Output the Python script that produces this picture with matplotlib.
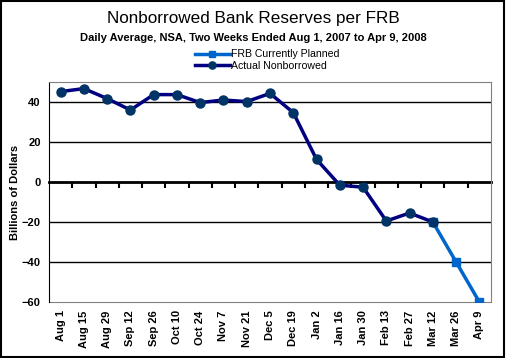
import numpy as np
import matplotlib.pyplot as plt
from matplotlib.patches import Rectangle

plt.rcParams['font.family'] = ['Liberation Sans', 'DejaVu Sans']

# two-week periods
weeks = ['Aug 1', 'Aug 15', 'Aug 29', 'Sep 12', 'Sep 26', 'Oct 10', 'Oct 24',
         'Nov 7', 'Nov 21', 'Dec 5', 'Dec 19', 'Jan 2', 'Jan 16', 'Jan 30',
         'Feb 13', 'Feb 27', 'Mar 12', 'Mar 26', 'Apr 9']

# Billions of dollars
actual = [45.2, 46.7, 41.7, 36.0, 43.7, 43.7, 39.7, 41.0, 40.2, 44.3,
          34.7, 11.3, -1.6, -2.6, -19.5, -15.5, -20.0]
planned_weeks = ['Mar 12', 'Mar 26', 'Apr 9']
planned = [-20.0, -40.0, -60.0]

x_all = np.arange(len(weeks))
x_act = x_all[:len(actual)]
x_plan = [weeks.index(w) for w in planned_weeks]

fig = plt.figure(figsize=(5.07, 3.58), dpi=100)
ax = fig.add_axes([49 / 507, 1 - 302 / 358, 442 / 507, 220 / 358])

# gridlines
for v in [40, 20, -20, -40]:
    ax.axhline(v, color='black', lw=1, zorder=1)

ax.plot(x_plan, planned, color='#0066CC', lw=2.5, marker='s', ms=6,
        mfc='#0066CC', mec='#0066CC', label='FRB Currently Planned', zorder=3)
ax.plot(x_act, actual, color='#000080', lw=2.5, marker='o', ms=6.5,
        mfc='#003366', mec='#003366', label='Actual Nonborrowed', zorder=4)

ax.set_xlim(-0.5, len(weeks) - 0.5)
ax.set_ylim(-60, 50)
ax.set_yticks([-60, -40, -20, 0, 20, 40])
ax.tick_params(axis='y', length=0, pad=6, labelsize=8)
for t in ax.get_yticklabels():
    t.set_fontweight('bold')

# category axis crosses at zero, labels stay at the bottom
ax.spines['bottom'].set_position(('data', 0))
ax.spines['bottom'].set_linewidth(2)
ax.spines['bottom'].set_zorder(2)
ax.set_xticks(x_all[:-1] + 0.5, minor=True)
ax.set_xticks([])
ax.tick_params(axis='x', which='minor', length=4, width=1.5, direction='out')
ax.spines['top'].set_color('#808080')
ax.spines['right'].set_color('#808080')
ax.spines['left'].set_color('black')

sec = ax.secondary_xaxis(0)
sec.set_xticks(x_all)
sec.set_xticklabels(weeks, rotation=90, fontsize=8, fontweight='bold')
sec.tick_params(length=0, pad=6)
sec.spines['bottom'].set_color('#808080')

fig.text(15 / 507, 1 - 192 / 358, 'Billions of Dollars', rotation=90,
         ha='center', va='center', fontsize=8, fontweight='bold')

fig.text(0.5, 1 - 19 / 358, 'Nonborrowed Bank Reserves per FRB',
         ha='center', va='center', fontsize=12.3)
fig.text(0.5, 1 - 38 / 358, 'Daily Average, NSA, Two Weeks Ended Aug 1, 2007 to Apr 9, 2008',
         ha='center', va='center', fontsize=8, fontweight='bold')

fig.legend(loc='center', bbox_to_anchor=(267 / 507, 1 - 60 / 358), frameon=False,
           fontsize=7.6, handlelength=3.3, handletextpad=0.1, labelspacing=0.15,
           borderpad=0, markerscale=0.8)

fig.patches.append(Rectangle((0.002, 0.002), 0.993, 0.995, transform=fig.transFigure,
                             fill=False, ec='black', lw=1.5))

fig.savefig('out.png', dpi=100)
